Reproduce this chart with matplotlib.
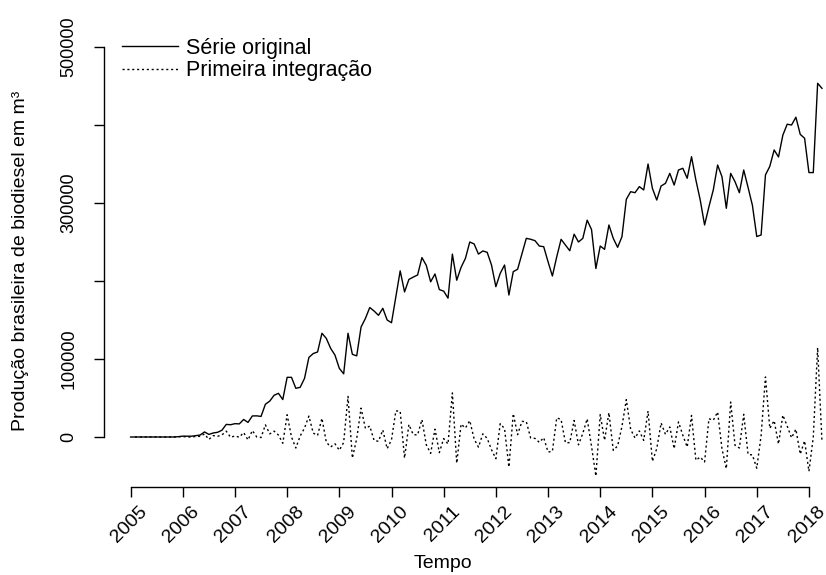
import numpy as np
import matplotlib.pyplot as plt
from matplotlib.transforms import ScaledTranslation

plt.rcParams['font.family'] = ['Liberation Sans', 'DejaVu Sans']

# Produção mensal brasileira de biodiesel (m³), jan/2005 a abr/2018
ano_inicio = 2005
prod_2005 = [0, 0, 10, 30, 30, 20, 140, 30, 15, 30, 20, 410]
prod_2006 = [1075, 1043, 1025, 1725, 2578, 6490, 3331, 5141, 6018, 8690, 16143, 15743]
prod_2007 = [17100, 16800, 22500, 18700, 27000, 27100, 26400, 42000, 46000, 53500, 56000, 48000]
prod_2008 = [76500, 76500, 62400, 63700, 75200, 102000, 107000, 109000, 133000, 126500, 113700, 105000]
prod_2009 = [88000, 81000, 133000, 106000, 104000, 141000, 152000, 166000, 161500, 156000, 165000, 150000]
prod_2010 = [146500, 180000, 213000, 186000, 202000, 205000, 207700, 230000, 220000, 199000, 209000, 189000]
prod_2011 = [187000, 178000, 234500, 201000, 217500, 229000, 250000, 247500, 234500, 238500, 236800, 220500]
prod_2012 = [192700, 209800, 220500, 182000, 212000, 215000, 235000, 254700, 253500, 251700, 244800, 244000]
prod_2013 = [224700, 206400, 231000, 253400, 246000, 238800, 260000, 250000, 254700, 278000, 266000, 216000]
prod_2014 = [244800, 240600, 271800, 254700, 243200, 256800, 304700, 314500, 313200, 321000, 316700, 350000]
prod_2015 = [318800, 303800, 321800, 325200, 338000, 323000, 342300, 344500, 331700, 359300, 329500, 303800]
prod_2016 = [271800, 295200, 316700, 348700, 333700, 293200, 338000, 327300, 313200, 342300, 320000, 297000]
prod_2017 = [257000, 259000, 336000, 347000, 368000, 359000, 387000, 401000, 400000, 410000, 388000, 383000]
prod_2018 = [339000, 339000, 453500, 447000]

producao = np.array(prod_2005 + prod_2006 + prod_2007 + prod_2008 + prod_2009 +
                    prod_2010 + prod_2011 + prod_2012 + prod_2013 + prod_2014 +
                    prod_2015 + prod_2016 + prod_2017 + prod_2018, dtype=float)
tempo = ano_inicio + np.arange(len(producao)) / 12

# primeira diferença da série
diferenca = np.diff(producao)
tempo_dif = tempo[1:]

anos = list(range(2005, 2019))
yticks = [0, 100000, 200000, 300000, 400000, 500000]
ylabels = ['0', '100000', '', '300000', '', '500000']

W, H = 826, 575
fig = plt.figure(figsize=(W / 100, H / 100), dpi=100)

# posição da área do gráfico em pixels (0 em y=437, 500000 em y=47)
px_esq, px_dir, px_topo, px_base = 104, 826, 29.8, 487
por_px = 500000 / (437 - 47)
ax = fig.add_axes([px_esq / W, 1 - px_base / H, (px_dir - px_esq) / W, (px_base - px_topo) / H])

ax.plot(tempo, producao, color='black', lw=1.0, label='Série original')
ax.plot(tempo_dif, diferenca, color='black', lw=1.0, linestyle=(0, (1.5, 2)),
        label='Primeira integração')

ax.set_xlim(2005 - (130.6 - px_esq) / 52.18, 2005 + (px_dir - 130.6) / 52.18)
ax.set_ylim(-(px_base - 437) * por_px, (437 - px_topo) * por_px)

for lado in ['top', 'right']:
    ax.spines[lado].set_visible(False)
ax.spines['left'].set_bounds(0, 500000)
ax.spines['bottom'].set_bounds(2005, 2018)
ax.spines['left'].set_linewidth(1.0)
ax.spines['bottom'].set_linewidth(1.0)

ax.set_xticks(anos)
ax.set_xticklabels([str(a) for a in anos], rotation=45, ha='right',
                   rotation_mode='anchor', va='center', fontsize=14)
ax.set_yticks(yticks)
ax.set_yticklabels(ylabels, rotation=90, va='center', fontsize=13)
ax.tick_params(axis='both', length=7, width=1.0, direction='out')
ax.tick_params(axis='y', pad=12)
ax.tick_params(axis='x', pad=9)
desloc = ScaledTranslation(14 / 100, 0, fig.dpi_scale_trans)
for rot in ax.get_xticklabels():
    rot.set_transform(rot.get_transform() + desloc)

fig.text(443 / W, 1 - 563 / H, 'Tempo', ha='center', va='center', fontsize=14)
fig.text(21 / W, 1 - 261 / H, 'Produção brasileira de biodiesel em m³',
         ha='center', va='center', rotation=90, fontsize=14)

ax.legend(loc='upper left', bbox_to_anchor=(122 / W, 1 - 38 / H),
          bbox_transform=fig.transFigure, frameon=False, fontsize=15.5,
          handlelength=2.6, handletextpad=0.35, labelspacing=0.05,
          borderpad=0, borderaxespad=0)

fig.savefig('out.png', dpi=100)
